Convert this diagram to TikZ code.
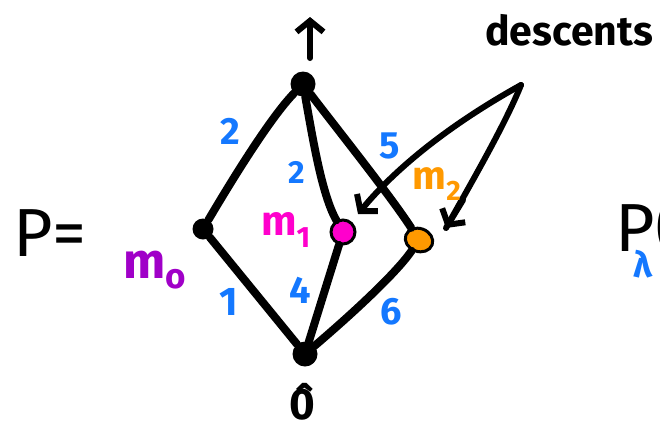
\documentclass[tikz,border=0pt]{standalone}
\usepackage{fontspec}
\setmainfont{Fira Sans}
\usetikzlibrary{arrows.meta,shapes.geometric}
\definecolor{lblue}{RGB}{20,120,255}
\definecolor{lmag}{RGB}{255,0,204}
\definecolor{lorange}{RGB}{255,153,0}
\definecolor{lpurple}{RGB}{160,0,200}
\tikzset{
  vtx/.style={circle,fill=black,inner sep=0pt,minimum size=#1},
  edge/.style={line width=8pt,line cap=round,line join=round},
  pointer/.style={line width=6pt,line cap=round,line join=round,
     -{Straight Barb[length=11pt,width=27pt,line width=6pt]}},
  num/.style={text=lblue,font=\bfseries\fontsize{38}{38}\selectfont},
  mlab/.style={font=\bfseries\fontsize{#1}{#1}\selectfont},
  blk/.style={font=\bfseries\fontsize{#1}{#1}\selectfont},
  reg/.style={font=\fontsize{#1}{#1}\selectfont}
}
\begin{document}
\begin{tikzpicture}[x=1pt,y=-1pt]
\useasboundingbox (0,0) rectangle (660,426);
\clip (0,0) rectangle (660,426);
% vertices
\node[vtx=25pt] (T) at (303,84) {};
\node[vtx=21pt] (L) at (203,229) {};
\node[vtx=24pt,fill=lmag,draw=black,line width=3pt] (M) at (343,232) {};
\node[fill=lorange,draw=black,line width=3pt,ellipse,inner sep=0pt,minimum width=28pt,minimum height=23pt,rotate=-20] (R) at (419,240) {};
\node[vtx=25pt] (B) at (305,354) {};
% edges
\draw[edge] (T) .. controls (270,118) and (232,180) .. (L);
\draw[edge] (L) -- (B);
\draw[edge] (T) .. controls (313,140) and (322,195) .. (M);
\draw[edge] (M) -- (B);
\draw[edge] (T) .. controls (330,120) and (390,195) .. (R);
\draw[edge] (R) .. controls (395,275) and (345,320) .. (B);
% top arrow
\coordinate (upS) at (310,58);
\coordinate (upE) at (310,17);
\draw[pointer] (upS) -- (upE);
% descents arrows
\node[blk=41] (desc) at (569,30) {descents};
\coordinate (D) at (521,85);
\coordinate (tip1) at (358,214);
\coordinate (tip2) at (446,228);
\draw[pointer] (D) .. controls (440,130) and (390,175) .. (tip1);
\draw[line width=6pt,line cap=round] (D) .. controls (505,125) and (470,185) .. (tip2);
\draw[pointer] (463,200) -- (tip2);
% labels
\node[reg=68] (Peq) at (50,233) {P=};
\node[reg=68,anchor=west] (Pl) at (612,228) {P(};
\node[text=lblue,blk=36] (lam) at (643,264) {λ};
\node[blk=44] (zero) at (302,402) {\^{0}};
\node[mlab=50,text=lpurple] (m0) at (155,270) {m\textsubscript{o}};
\node[mlab=42,text=lmag] (m1) at (286,230) {m\textsubscript{1}};
\node[mlab=40,text=lorange] (m2) at (437,184) {m\textsubscript{2}};
\node[num] (e1) at (230,131) {2};
\node[num,font=\bfseries\fontsize{32}{32}\selectfont] (e2) at (297,172) {2};
\node[num] (e3) at (390,146) {5};
\node[num] (e4) at (300,290) {4};
\node[num,font=\bfseries\fontsize{40}{40}\selectfont] (e5) at (229,302) {1};
\node[num] (e6) at (391,312) {6};
\end{tikzpicture}
\end{document}
